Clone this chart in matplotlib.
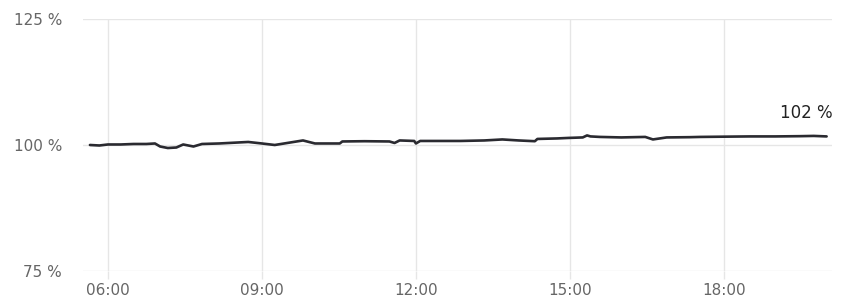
import matplotlib
matplotlib.use('Agg')
import matplotlib.pyplot as plt

# readings (time of day, percent)
times = ['05:39', '05:50', '06:00', '06:15', '06:30', '06:45', '06:55', '07:01',
         '07:10', '07:20', '07:28', '07:40', '07:50', '08:10', '08:44', '09:00',
         '09:15', '09:48', '10:02', '10:31', '10:34', '11:00', '11:29', '11:35',
         '11:41', '11:58', '12:00', '12:05', '12:30', '12:52', '13:20', '13:41',
         '14:00', '14:19', '14:22', '14:45', '14:58', '15:15', '15:20', '15:24',
         '15:35', '16:00', '16:28', '16:37', '16:53', '17:20', '17:32', '18:00',
         '18:30', '19:00', '19:29', '19:45', '20:00']
values = [100.0, 99.9, 100.1, 100.1, 100.2, 100.2, 100.3, 99.7,
          99.4, 99.5, 100.1, 99.7, 100.2, 100.3, 100.6, 100.3,
          100.0, 100.9, 100.3, 100.3, 100.7, 100.75, 100.7, 100.4,
          100.9, 100.8, 100.3, 100.8, 100.8, 100.8, 100.9, 101.1,
          100.9, 100.75, 101.2, 101.3, 101.4, 101.5, 101.9, 101.7,
          101.6, 101.5, 101.6, 101.1, 101.5, 101.55, 101.6, 101.65,
          101.7, 101.7, 101.75, 101.8, 101.7]
end_label = '102 %'

x_ticks = [6, 9, 12, 15, 18]
x_tick_labels = ['06:00', '09:00', '12:00', '15:00', '18:00']
y_ticks = [75, 100, 125]
y_tick_labels = ['75 %', '100 %', '125 %']


def to_hours(s):
    h, m = s.split(':')
    return int(h) + int(m) / 60


hours = [to_hours(t) for t in times]

fig = plt.figure(figsize=(8.47, 3.0), dpi=100)
ax = fig.add_axes([0.098, 0.0967, 0.884, 0.84])

grid_col = '#e6e6e6'
ax.plot(hours, values, color='#2a2a30', linewidth=1.9, solid_capstyle='round', zorder=3)

ax.set_xlim(5.515, 20.10)
ax.set_ylim(75, 125)
ax.set_xticks(x_ticks)
ax.set_xticklabels(x_tick_labels)
ax.set_yticks(y_ticks)
ax.set_yticklabels(y_tick_labels)

for s in ax.spines.values():
    s.set_visible(False)
ax.grid(True, color=grid_col, linewidth=1.0, zorder=0)
ax.tick_params(axis='x', length=6, width=1.0, color=grid_col, pad=3,
               labelsize=11, labelcolor='#666666')
ax.tick_params(axis='y', length=0, pad=15, labelsize=11, labelcolor='#666666')

ax.annotate(end_label, xy=(hours[-1], values[-1]), xytext=(6, 14),
            textcoords='offset pixels', ha='right', va='bottom',
            fontsize=12, color='#222222')

fig.savefig('out.png', dpi=100)
